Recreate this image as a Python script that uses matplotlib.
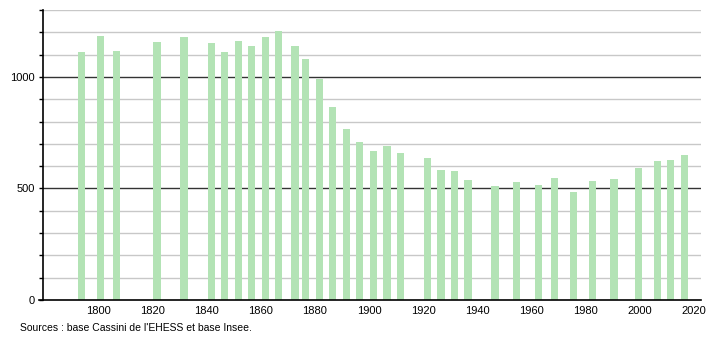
import matplotlib
matplotlib.use("Agg")
import matplotlib.pyplot as plt
from matplotlib.ticker import MultipleLocator

years = [1793, 1800, 1806, 1821, 1831, 1841, 1846, 1851, 1856, 1861, 1866,
         1872, 1876, 1881, 1886, 1891, 1896, 1901, 1906, 1911, 1921, 1926,
         1931, 1936, 1946, 1954, 1962, 1968, 1975, 1982, 1990, 1999, 2006,
         2011, 2016]
population = [1113, 1185, 1116, 1158, 1180, 1153, 1113, 1162, 1140, 1180, 1206,
              1138, 1080, 992, 864, 768, 710, 668, 692, 660, 636, 583,
              578, 538, 511, 529, 517, 548, 484, 535, 542, 590, 623,
              627, 650]
xticks = [1800, 1820, 1840, 1860, 1880, 1900, 1920, 1940, 1960, 1980, 2000, 2020]
yticks = [0, 500, 1000]
source_text = "Sources : base Cassini de l'EHESS et base Insee."

plt.rcParams['font.family'] = ['Liberation Sans', 'DejaVu Sans']

fig = plt.figure(figsize=(7.1, 3.4), dpi=100)
ax = fig.add_axes([43/710, 1 - 300/340, (701 - 43)/710, 290/340])

# grid lines
for v in range(100, 1301, 100):
    if v % 500 == 0:
        ax.axhline(v, color='#333333', lw=1.0, zorder=1)
    else:
        ax.axhline(v, color='#c8c8c8', lw=1.0, zorder=1)

ax.bar([y + 0.6 for y in years], population, width=2.7, color='#b3e3b5',
       zorder=2, linewidth=0)

ax.set_xlim(1779.4, 2022.8)
ax.set_ylim(0, 1300)
ax.set_xticks(xticks)
ax.set_yticks(yticks)
ax.yaxis.set_minor_locator(MultipleLocator(100))
ax.tick_params(axis='x', length=0, labelsize=8, pad=4)
ax.tick_params(axis='y', which='major', length=3, width=1, labelsize=8, pad=3)
ax.tick_params(axis='y', which='minor', length=3, width=1)

for s in ['top', 'right']:
    ax.spines[s].set_visible(False)
ax.spines['left'].set_linewidth(1.2)
ax.spines['bottom'].set_linewidth(1.2)
ax.spines['bottom'].set_bounds(1778.0, 2022.8)
ax.spines['bottom'].set_zorder(3)

fig.text(20/710, 1 - 328/340, source_text, fontsize=7.5, va='center', ha='left')

fig.savefig("out.png", dpi=100)
